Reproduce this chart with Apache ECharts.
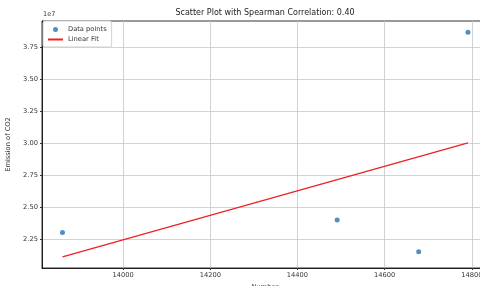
<!DOCTYPE html>
<html>
<head>
<meta charset="utf-8">
<script src="https://cdn.jsdelivr.net/npm/echarts@6/dist/echarts.min.js"></script>
<style>html,body{margin:0;padding:0;background:#fff}#c{width:480px;height:286px}</style>
</head>
<body>
<div id="c"></div>
<script>
const titleText = 'Scatter Plot with Spearman Correlation: 0.40';
const xName = 'Number';
const yName = 'Emission of CO2';
const xValues = [13861, 14491, 14678, 14791];
const yValues = [2.302e7, 2.401e7, 2.151e7, 3.867e7];
const fitX = [13861, 14791];
const fitY = [2.111e7, 3.002e7];
const xTicks = [14000, 14200, 14400, 14600, 14800];
const yTicks = [2.25e7, 2.5e7, 2.75e7, 3.0e7, 3.25e7, 3.5e7, 3.75e7];

const font = 'DejaVu Sans';
const chart = echarts.init(document.getElementById('c'), null, {renderer: 'canvas'});
chart.setOption({
  animation: false,
  backgroundColor: '#fff',
  title: {
    text: titleText, left: 265, top: 9, textAlign: 'center', padding: 0,
    textStyle: {fontFamily: font, fontSize: 8, fontWeight: 'normal', color: '#222'}
  },
  legend: {
    left: 43, top: 21, orient: 'vertical', padding: [5, 5, 4, 4], itemGap: 3,
    itemWidth: 15, itemHeight: 5,
    borderColor: '#d0d0d0', borderWidth: 1, borderRadius: 2, backgroundColor: '#fff',
    textStyle: {fontFamily: font, fontSize: 6.7, color: '#333'},
    data: [
      {name: 'Data points', icon: 'circle'},
      {name: 'Linear Fit', itemStyle: {color: 'rgba(0,0,0,0)', borderWidth: 0}}
    ]
  },
  graphic: [{
    type: 'text', left: 43, top: 11,
    style: {text: '1e7', fontFamily: font, fontSize: 6.5, fill: '#333'}
  }],
  grid: {left: 42, top: 21, width: 446, height: 247, outerBoundsMode: 'none', containLabel: false,
    show: true, borderColor: '#000', borderWidth: 0.8, backgroundColor: 'transparent'},
  xAxis: {
    type: 'value', min: 13814, max: 14837,
    name: xName, nameLocation: 'middle', nameGap: 12,
    nameTextStyle: {fontFamily: font, fontSize: 6.7, color: '#333'},
    axisLine: {show: true, lineStyle: {color: '#000', width: 0.8}},
    axisTick: {show: true, length: 2, customValues: xTicks, lineStyle: {color: '#333'}},
    axisLabel: {customValues: xTicks, fontFamily: font, fontSize: 6.7, color: '#333', margin: 4,
      formatter: v => String(v)},
    splitLine: {show: true, lineStyle: {color: '#c8c8c8', width: 0.8}}
  },
  yAxis: {
    type: 'value', min: 2.025e7, max: 3.955e7,
    name: yName, nameLocation: 'middle', nameGap: 22,
    nameTextStyle: {fontFamily: font, fontSize: 6.7, color: '#333'},
    axisLine: {show: true, lineStyle: {color: '#000', width: 0.8}},
    axisTick: {show: true, length: 2, customValues: yTicks, lineStyle: {color: '#333'}},
    axisLabel: {customValues: yTicks, fontFamily: font, fontSize: 6.7, color: '#333', margin: 4,
      formatter: v => (v / 1e7).toFixed(2)},
    splitLine: {show: true, lineStyle: {color: '#c8c8c8', width: 0.8}}
  },
  series: [
    {
      name: 'Data points', type: 'scatter', symbolSize: 5,
      itemStyle: {color: '#3f82bd', opacity: 0.9},
      data: xValues.map((x, i) => [x, yValues[i]])
    },
    {
      name: 'Linear Fit', type: 'line', symbol: 'none', showSymbol: false,
      lineStyle: {color: '#f02020', width: 1.3},
      itemStyle: {color: '#f02020'},
      data: fitX.map((x, i) => [x, fitY[i]])
    }
  ]
});
</script>
</body>
</html>
